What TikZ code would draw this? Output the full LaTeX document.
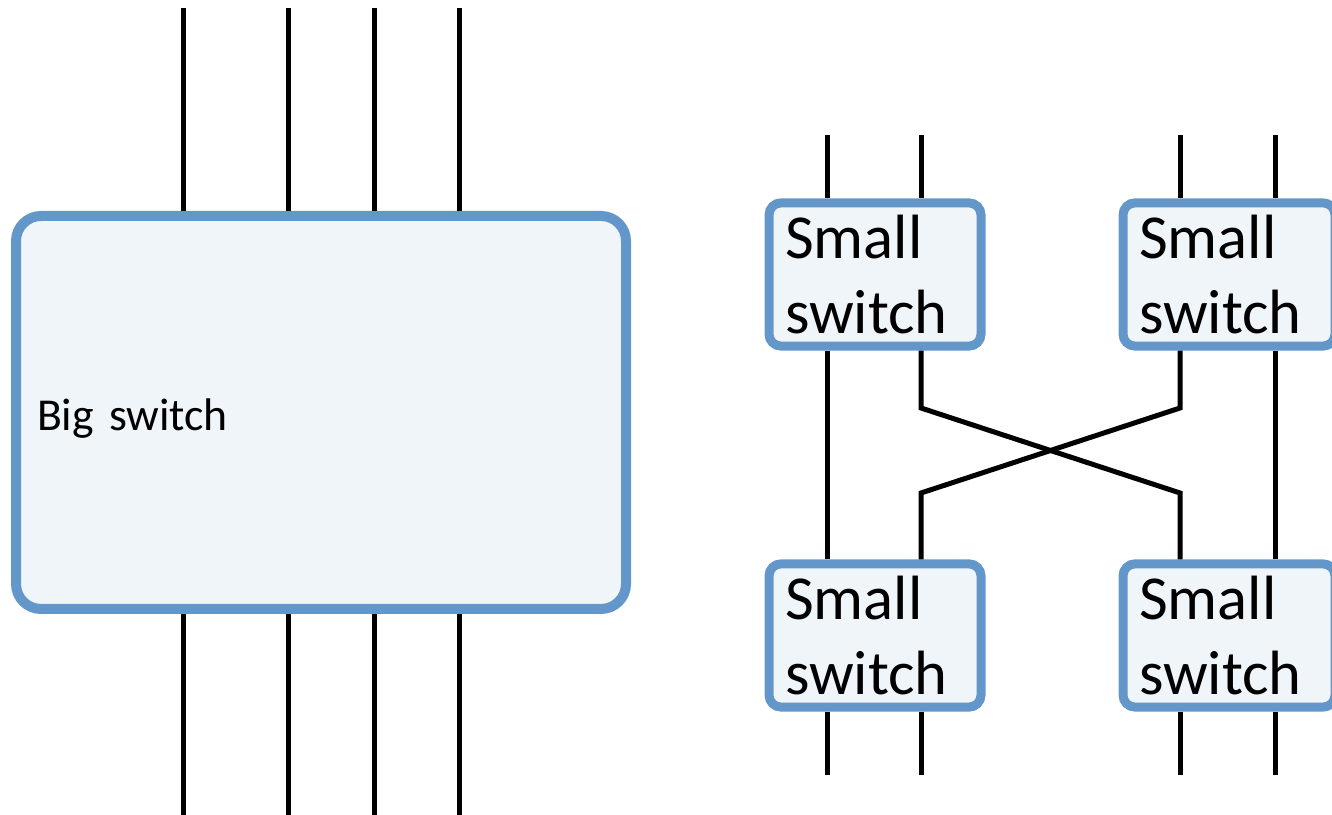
\documentclass[tikz,border=0pt]{standalone}
\usepackage{fontspec}
\setmainfont{Carlito}
\usetikzlibrary{arrows}

\definecolor{swblue}{RGB}{99,150,201}
\definecolor{swfill}{RGB}{240,245,250}

\begin{document}
\begin{tikzpicture}
\tikzstyle{SwitchStyle}=[draw = swblue, fill = swfill,
                         line width = 0.1cm,
                         rounded corners = 0.25cm]
\tikzstyle{SmallStyle}=[SwitchStyle,
                        line width = 0.09cm,
                        rounded corners = 0.12cm,
                        text width = 1.8cm, inner xsep = 0.16cm,
                        minimum height = 1.37cm, align = left,
                        font = \fontsize{17.8}{21.6}\selectfont]
\tikzstyle{wire}=[line width = 0.05cm, black]
\useasboundingbox (0,0) rectangle (13.32,8.15);
% one big switch
\node[SwitchStyle, text width = 5.68cm, inner xsep = 0.21cm,
      minimum height = 3.93cm, align = left, text height = 0.44cm,
      font = \fontsize{13}{15.6}\selectfont] (big) at (3.21,4.025) {Big switch};
\foreach \x in {1.83, 2.88, 3.74, 4.59} {
  \draw[wire] (\x,8.07) -- (\x,0 |- big.north);
  \draw[wire] (\x,0 |- big.south) -- (\x,0);
}
% four small switches
\node[SmallStyle] (s1) at (8.75,5.405) {Small\\switch};
\node[SmallStyle] (s2) at (12.29,5.405) {Small\\switch};
\node[SmallStyle, minimum height = 1.35cm] (s3) at (8.75,1.795) {Small\\switch};
\node[SmallStyle, minimum height = 1.35cm] (s4) at (12.29,1.795) {Small\\switch};
\foreach \x in {8.27, 9.21} {
  \draw[wire] (\x,6.80) -- (\x,0 |- s1.north);
  \draw[wire] (\x,0 |- s3.south) -- (\x,0.40);
}
\foreach \x in {11.80, 12.75} {
  \draw[wire] (\x,6.80) -- (\x,0 |- s2.north);
  \draw[wire] (\x,0 |- s4.south) -- (\x,0.40);
}
\draw[wire] (8.27,0 |- s1.south) -- (8.27,0 |- s3.north);
\draw[wire] (12.75,0 |- s2.south) -- (12.75,0 |- s4.north);
\draw[wire] (9.21,0 |- s1.south) -- (9.21,4.07) -- (11.80,3.22) -- (11.80,0 |- s4.north);
\draw[wire] (11.80,0 |- s2.south) -- (11.80,4.07) -- (9.21,3.22) -- (9.21,0 |- s3.north);
\end{tikzpicture}
\end{document}
